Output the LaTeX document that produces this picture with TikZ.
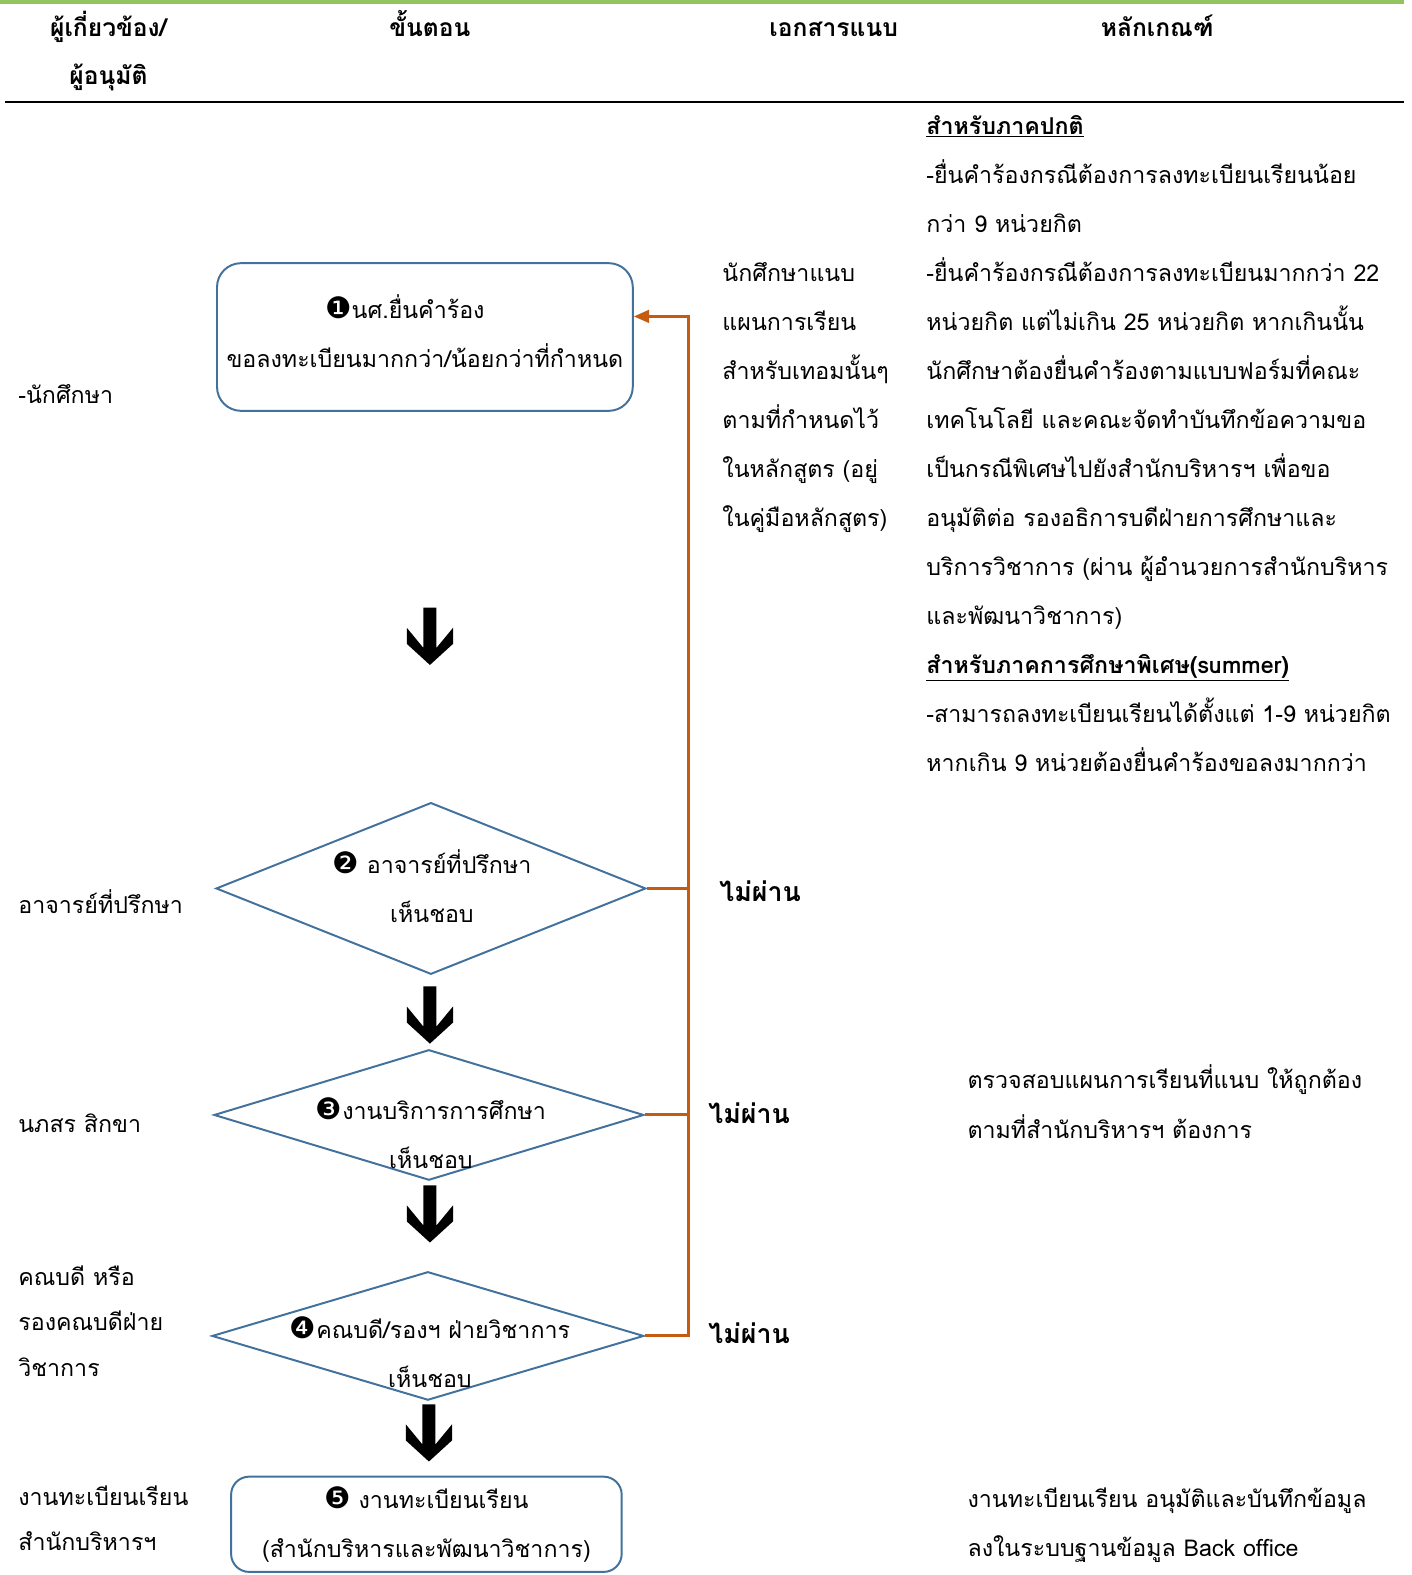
\documentclass[tikz,border=0pt]{standalone}
\usepackage{fontspec}
\setmainfont{Loma}[Script=Thai]
\newfontfamily\dingfont{DejaVu Sans}
\newcommand{\stepno}[1]{{\dingfont\fontsize{21}{21}\selectfont #1}}
\usetikzlibrary{shapes.geometric,arrows.meta}
\definecolor{flowblue}{RGB}{65,113,156}
\definecolor{backorange}{RGB}{197,90,17}
\definecolor{topgreen}{RGB}{146,196,96}

\begin{document}
\begin{tikzpicture}[x=0.0251cm, y=-0.0251cm,
    txt/.style={anchor=base west, inner sep=0pt, font=\fontsize{16.5}{19}\selectfont},
    head/.style={anchor=base, inner sep=0pt, font=\fontsize{17.5}{20}\selectfont\bfseries},
    nopass/.style={anchor=base west, inner sep=0pt, font=\fontsize{19}{22}\selectfont\bfseries},
    procbox/.style={draw=flowblue, line width=1.4pt, rounded corners=0.6cm, align=center,
        font=\fontsize{16.5}{34.7}\selectfont},
    decide/.style={diamond, draw=flowblue, line width=1.4pt, inner sep=0pt},
    dtxt/.style={align=center, inner sep=0pt, font=\fontsize{16.5}{34.7}\selectfont},
    back/.style={draw=backorange, line width=2.1pt},
    downarr/.pic={\fill (-6.5,0) -- (6.5,0) -- (6.5,40) -- (23,20) -- (23,36) -- (0,57)
        -- (-23,36) -- (-23,20) -- (-6.5,40) -- cycle;}]
\useasboundingbox (0,0) rectangle (1405,1568);

% Header
\draw[topgreen, line width=2.8pt] (0,2) -- (1398,2);
\draw[line width=1.4pt] (5,102) -- (1398,102);
\node[head] (hwho) at (108,36) {ผู้เกี่ยวข้อง/};
\node[head] (happ) at (108,84) {ผู้อนุมัติ};
\node[head] (hstep) at (428,36) {ขั้นตอน};
\node[head] (hdoc) at (830,36) {เอกสารแนบ};
\node[head] (hrule) at (1152,36) {หลักเกณฑ์};

% Who
\node[txt] (who1) at (18,402) {-นักศึกษา};
\node[txt] (who2) at (18,909) {อาจารย์ที่ปรึกษา};
\node[txt] (who3) at (18,1127) {นภสร สิกขา};
\node[txt] (who4a) at (18,1280) {คณบดี หรือ};
\node[txt] (who4b) at (18,1325) {รองคณบดีฝ่าย};
\node[txt] (who4c) at (18,1370) {วิชาการ};
\node[txt] (who5a) at (18,1499) {งานทะเบียนเรียน};
\node[txt] (who5b) at (18,1544) {สำนักบริหารฯ};

% Steps
\node[procbox, minimum width=10.39cm, minimum height=3.69cm] (box1) at (423,335.5)
    {\stepno{❶}นศ.ยื่นคำร้อง\hspace*{1cm}\\ขอลงทะเบียนมากกว่า/น้อยกว่าที่กำหนด\\[-0.92cm]};
\node[decide, minimum width=10.74cm, minimum height=4.29cm] (d2) at (429,884.5) {};
\node[dtxt] (d2t) at (430,882) {\stepno{❷} อาจารย์ที่ปรึกษา\\เห็นชอบ};
\node[decide, minimum width=10.74cm, minimum height=3.26cm] (d3) at (427,1110) {};
\node[dtxt] (d3t) at (429,1128) {\stepno{❸}งานบริการการศึกษา\\เห็นชอบ};
\node[decide, minimum width=10.79cm, minimum height=3.21cm] (d4) at (426,1330) {};
\node[dtxt] (d4t) at (428,1346) {\stepno{❹}คณบดี/รองฯ ฝ่ายวิชาการ\\เห็นชอบ};
\node[procbox, minimum width=9.76cm, minimum height=2.38cm, rounded corners=0.45cm] (box5)
    at (424.5,1517.5) {\stepno{❺} งานทะเบียนเรียน\\(สำนักบริหารและพัฒนาวิชาการ)};

\pic at (428,605) {downarr};
\pic at (428,982) {downarr};
\pic at (428,1180) {downarr};
\pic at (427,1398) {downarr};

% Not passed
\coordinate (bus) at (685,315);
\draw[back] (d2.east) -- (d2.east -| bus);
\draw[back] (d3.east) -- (d3.east -| bus);
\draw[back, -{Triangle[length=11pt,width=9pt]}] (d4.east) -- (d4.east -| bus) -- (bus)
    -- (bus -| box1.east);
\node[nopass] (np2) at (716,897) {ไม่ผ่าน};
\node[nopass] (np3) at (705,1118) {ไม่ผ่าน};
\node[nopass] (np4) at (705,1338) {ไม่ผ่าน};

% Documents
\foreach \t [count=\i from 0] in {นักศึกษาแนบ, แผนการเรียน, สำหรับเทอมนั้นๆ,
    ตามที่กำหนดไว้, ในหลักสูตร (อยู่, ในคู่มือหลักสูตร)}
  \node[txt] (doc\i) at (719,280+48.8*\i) {\t};

% Rules
\foreach \t [count=\i from 0] in {{\underline{\textbf{สำหรับภาคปกติ}}},
    -ยื่นคำร้องกรณีต้องการลงทะเบียนเรียนน้อย, กว่า 9 หน่วยกิต,
    -ยื่นคำร้องกรณีต้องการลงทะเบียนมากกว่า 22, หน่วยกิต แต่ไม่เกิน 25 หน่วยกิต หากเกินนั้น,
    นักศึกษาต้องยื่นคำร้องตามแบบฟอร์มที่คณะ, เทคโนโลยี และคณะจัดทำบันทึกข้อความขอ,
    เป็นกรณีพิเศษไปยังสำนักบริหารฯ เพื่อขอ, อนุมัติต่อ รองอธิการบดีฝ่ายการศึกษาและ,
    บริการวิชาการ (ผ่าน ผู้อำนวยการสำนักบริหาร, และพัฒนาวิชาการ),
    {\underline{\textbf{สำหรับภาคการศึกษาพิเศษ(summer)}}},
    -สามารถลงทะเบียนเรียนได้ตั้งแต่ 1-9 หน่วยกิต, หากเกิน 9 หน่วยต้องยื่นคำร้องขอลงมากกว่า}
  \node[txt] (rule\i) at (922,134+48.75*\i) {\t};
\node[txt] (chk1) at (963,1084) {ตรวจสอบแผนการเรียนที่แนบ ให้ถูกต้อง};
\node[txt] (chk2) at (963,1133) {ตามที่สำนักบริหารฯ ต้องการ};
\node[txt] (reg1) at (963,1501) {งานทะเบียนเรียน อนุมัติและบันทึกข้อมูล};
\node[txt] (reg2) at (963,1550) {ลงในระบบฐานข้อมูล Back office};

\end{tikzpicture}
\end{document}
